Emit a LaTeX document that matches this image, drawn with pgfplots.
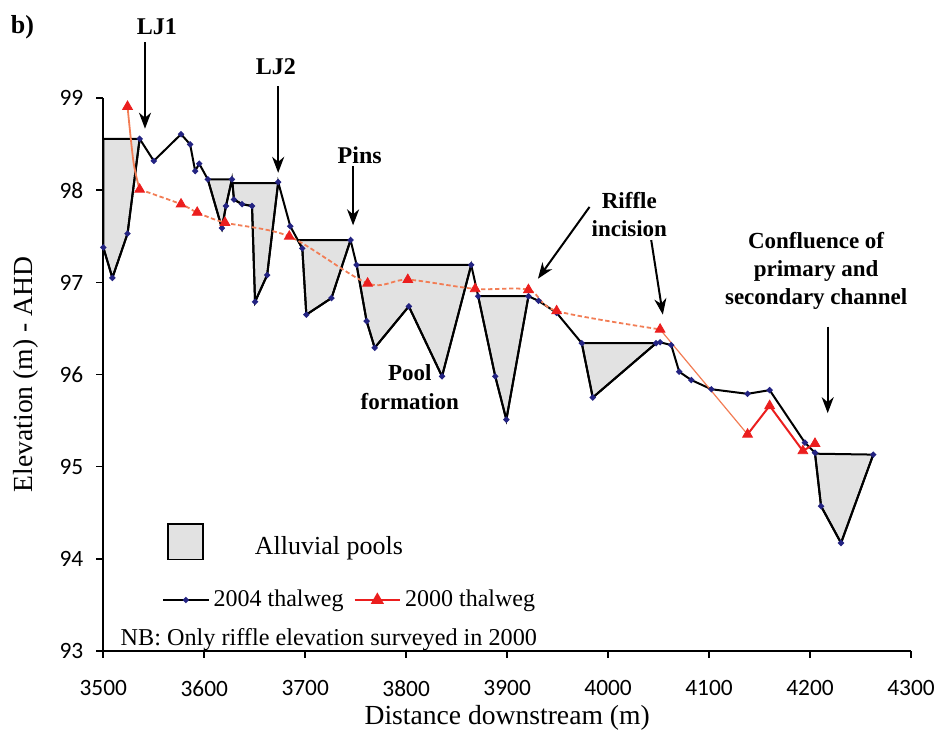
\documentclass[border=0pt]{standalone}
\usepackage{fontspec}
\setmainfont{Liberation Serif}
\newfontfamily\tickfont{Carlito}
\usepackage{pgfplots}
\pgfplotsset{compat=1.18}
\usetikzlibrary{arrows.meta}
\definecolor{poolgray}{RGB}{226,226,226}
\definecolor{dotblue}{RGB}{35,35,130}
\definecolor{redtri}{RGB}{235,30,30}
\definecolor{orangeln}{RGB}{242,125,85}

\begin{document}
\begin{tikzpicture}
\useasboundingbox (-51.65pt,-43.65pt) rectangle (418.35pt,325.35pt);
\begin{axis}[
  scale only axis, width=403.85pt, height=276.2pt,
  xmin=3500, xmax=4300, ymin=93, ymax=99,
  axis x line=bottom, axis y line=left,
  axis line style={-, line width=0.9pt},
  xtick={3500,3600,...,4300}, ytick={93,94,...,99},
  tick align=outside,
  major tick length=3.5pt,
  tick style={black, line width=0.9pt},
  minor tick num=0,
  /pgf/number format/assume math mode=true,
  /pgf/number format/1000 sep={},
  tick label style={font=\tickfont\fontsize{11.7}{14}\selectfont},
  xticklabel style={yshift=-8pt},
  yticklabel style={xshift=-3pt},
  xlabel={Distance downstream (m)},
  ylabel={Elevation (m) - AHD},
  label style={font=\fontsize{13.8}{16}\selectfont},
  x label style={at={(axis description cs:0.5,-0.1218)}, anchor=center},
  y label style={at={(axis description cs:-0.0953,0.5)}, anchor=center},
  clip=false,
  legend style={at={(0.0723,0.0918)}, anchor=west, draw=none, fill=none,
    legend columns=2, font=\fontsize{12}{14}\selectfont,
    inner sep=0pt, /tikz/every even column/.append style={column sep=3pt}},
  legend image code/.code={\draw[mark repeat=2,mark phase=2,#1] plot coordinates {(0cm,0cm) (0.4cm,0cm) (0.8cm,0cm)};},
]
% Alluvial pools
\addplot[fill=poolgray, draw=black, line width=1pt, forget plot] coordinates {(3500,98.56)(3536,98.56)(3524,97.53)(3509,97.05)(3500,97.38)} -- cycle;
\addplot[fill=poolgray, draw=black, line width=1pt, forget plot] coordinates {(3603.5,98.12)(3617.5,97.59)(3621.5,97.83)(3627.4,98.12)} -- cycle;
\addplot[fill=poolgray, draw=black, line width=1pt, forget plot] coordinates {(3628,98.08)(3629.4,97.90)(3637.4,97.85)(3647.3,97.83)(3650.3,96.79)(3662.3,97.08)(3673.2,98.08)} -- cycle;
\addplot[fill=poolgray, draw=black, line width=1pt, forget plot] coordinates {(3692.6,97.46)(3697.1,97.37)(3701.1,96.65)(3726,96.83)(3744.9,97.46)} -- cycle;
\addplot[fill=poolgray, draw=black, line width=1pt, forget plot] coordinates {(3750.9,97.19)(3760.8,96.58)(3768.8,96.29)(3802.6,96.74)(3835.5,95.98)(3864.4,97.19)} -- cycle;
\addplot[fill=poolgray, draw=black, line width=1pt, forget plot] coordinates {(3871.3,96.85)(3888.2,95.98)(3899.2,95.51)(3921.1,96.85)} -- cycle;
\addplot[fill=poolgray, draw=black, line width=1pt, forget plot] coordinates {(3973.9,96.34)(3984.8,95.75)(4047.5,96.34)} -- cycle;
\addplot[fill=poolgray, draw=black, line width=1pt, forget plot] coordinates {(4204.9,95.14)(4210.9,94.57)(4230.7,94.17)(4262.6,95.13)} -- cycle;
% 2004 thalweg
\addplot[black, line width=1pt, mark=*, mark size=0.95pt, mark options={dotblue, draw=dotblue}, forget plot] coordinates {
(3500,97.38)(3509,97.05)(3524,97.53)(3536,98.56)(3550,98.32)(3577,98.61)(3586,98.50)(3591,98.21)(3595,98.29)
(3603.5,98.12)(3617.5,97.59)(3621.5,97.83)(3627.4,98.12)(3629.4,97.90)(3637.4,97.85)(3647.3,97.83)(3650.3,96.79)
(3662.3,97.08)(3673.2,98.09)(3685.2,97.61)(3697.1,97.37)(3701.1,96.65)(3726,96.83)(3744.9,97.46)(3750.9,97.19)
(3760.8,96.58)(3768.8,96.29)(3802.6,96.74)(3835.5,95.98)(3864.4,97.19)(3871.3,96.85)(3888.2,95.98)(3899.2,95.51)
(3921.1,96.85)(3931.1,96.80)(3949,96.67)(3973.9,96.34)(3984.8,95.75)(4047.5,96.34)(4051.5,96.35)(4062.5,96.32)
(4070.4,96.03)(4082.4,95.94)(4102.3,95.84)(4138.1,95.79)(4160,95.83)(4194.9,95.26)(4204.9,95.15)(4210.9,94.57)
(4230.7,94.17)(4262.6,95.13)};
% 2000 thalweg
\addplot[orangeln, line width=0.9pt, smooth, forget plot] coordinates {(3524,98.91)(3530,98.3)(3536,98.01)};
\addplot[orangeln, dash pattern=on 2.2pt off 1.3pt, line width=0.9pt, smooth, forget plot] coordinates {
(3536,98.01)(3577,97.85)(3593,97.76)(3620.5,97.65)(3684.2,97.50)(3761.8,96.99)(3801.6,97.03)(3868.3,96.93)
(3921.1,96.92)(3949,96.69)(4051.5,96.49)};
\addplot[orangeln, line width=0.6pt, forget plot] coordinates {(4051.5,96.49)(4138.1,95.35)};
\addplot[redtri, line width=1pt, forget plot] coordinates {(4138.1,95.35)(4160,95.66)(4192.9,95.17)(4204.9,95.25)};
\addplot[only marks, mark=triangle*, mark size=2.8pt, redtri, forget plot] coordinates {
(3524,98.91)(3536,98.01)(3577,97.85)(3593,97.76)(3620.5,97.65)(3684.2,97.50)(3761.8,96.99)(3801.6,97.03)
(3868.3,96.93)(3921.1,96.92)(3949,96.69)(4051.5,96.49)(4138.1,95.35)(4160,95.66)(4192.9,95.17)(4204.9,95.25)};
% legend
\addlegendimage{black, line width=1pt, mark=*, mark size=0.95pt, mark options={dotblue, draw=dotblue}}
\addlegendentry{2004 thalweg}
\addlegendimage{redtri, line width=1pt, mark=triangle*, mark size=2.8pt}
\addlegendentry{2000 thalweg}
% pool legend box
\draw[fill=poolgray, draw=black, line width=0.9pt] (axis cs:3564.3,93.99) rectangle (axis cs:3599,94.38);
\node[font=\fontsize{13}{15}\selectfont] at (axis cs:3723.4,94.11) {Alluvial pools};
\node[font=\fontsize{12.1}{14}\selectfont, anchor=base] at (axis cs:3723.4,93.06) {NB: Only riffle elevation surveyed in 2000};
% annotations
\node[font=\bfseries\fontsize{13}{15}\selectfont] at (axis cs:3420,99.77) {b)};
\node[font=\bfseries\fontsize{12}{14}\selectfont] at (axis cs:3553,99.78) {LJ1};
\draw[line width=1pt, -{Stealth[length=8pt,width=6pt,inset=2.5pt]}] (axis cs:3541.3,99.61) -- (axis cs:3541.3,98.67);
\node[font=\bfseries\fontsize{12}{14}\selectfont] at (axis cs:3671,99.34) {LJ2};
\draw[line width=1pt, -{Stealth[length=8pt,width=6pt,inset=2.5pt]}] (axis cs:3673.2,99.13) -- (axis cs:3673.2,98.19);
\node[font=\bfseries\fontsize{12}{14}\selectfont] at (axis cs:3754,98.38) {Pins};
\draw[line width=1pt, -{Stealth[length=8pt,width=6pt,inset=2.5pt]}] (axis cs:3747.4,98.26) -- (axis cs:3747.4,97.62);
\node[font=\bfseries\fontsize{11.5}{14}\selectfont, align=center] at (axis cs:4021,97.74) {Riffle\\incision};
\draw[line width=1pt, -{Stealth[length=8pt,width=6pt,inset=2.5pt]}] (axis cs:3981.6,97.82) -- (axis cs:3930.5,97.04);
\draw[line width=1pt, -{Stealth[length=8pt,width=6pt,inset=2.5pt]}] (axis cs:4042.7,97.46) -- (axis cs:4054.2,96.65);
\node[font=\bfseries\fontsize{11.5}{14}\selectfont, align=center] at (axis cs:4206,97.13) {Confluence of\\primary and\\secondary channel};
\draw[line width=1pt, -{Stealth[length=8pt,width=6pt,inset=2.5pt]}] (axis cs:4217.5,96.52) -- (axis cs:4217.5,95.58);
\node[font=\bfseries\fontsize{11.5}{14.5}\selectfont, align=center] at (axis cs:3803.6,95.86) {Pool\\formation};
\end{axis}
\end{tikzpicture}
\end{document}
